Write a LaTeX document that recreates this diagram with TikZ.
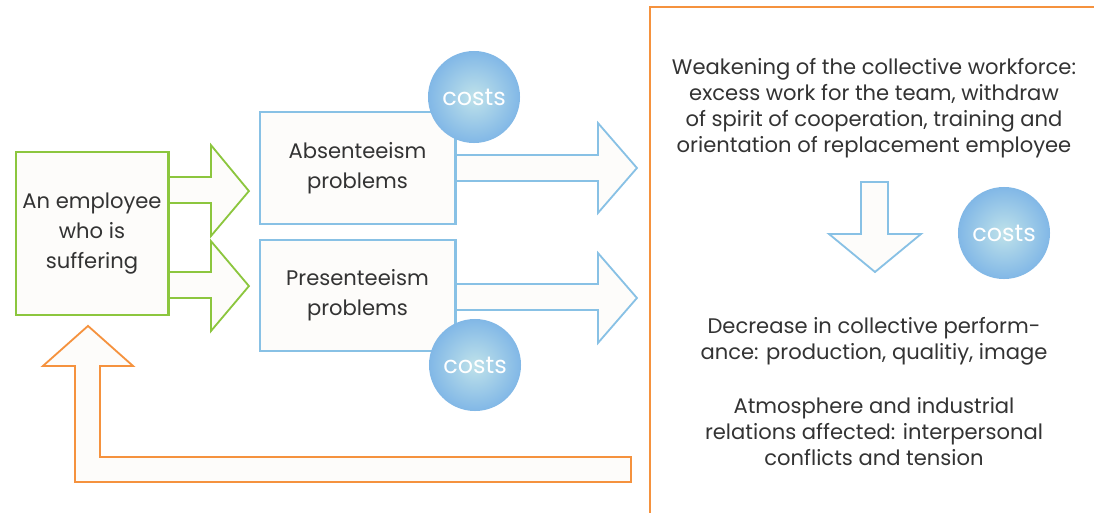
\documentclass[tikz,border=0pt]{standalone}
\usepackage{fontspec}
\setmainfont{Poppins}
\usetikzlibrary{calc}
\definecolor{leafgreen}{HTML}{8CC63E}
\definecolor{skyblue}{HTML}{88C1E5}
\definecolor{paleblue}{HTML}{BFE2EA}
\definecolor{tangerine}{HTML}{F5923E}
\definecolor{inkgray}{HTML}{333333}
\definecolor{paper}{HTML}{FDFCFA}
\tikzset{
  txt/.style={text=inkgray, font=\fontsize{15}{18.5}\selectfont, align=center},
  boxtxt/.style={text=inkgray, font=\fontsize{15}{21.5}\selectfont, align=center},
  greenbox/.style={draw=leafgreen, line width=1.3pt, fill=paper, boxtxt},
  bluebox/.style={draw=skyblue, line width=1.3pt, fill=paper, boxtxt,
    minimum width=4.875cm, minimum height=2.8cm},
  greenblock/.style={draw=leafgreen, line width=1.3pt, fill=paper, line join=miter},
  blueblock/.style={draw=skyblue, line width=1.3pt, fill=paper, line join=miter},
  orangeblock/.style={draw=tangerine, line width=1.3pt, fill=paper, line join=miter},
  costs/.style={circle, minimum size=2.3cm, inner sep=0pt, inner color=paleblue,
    outer color=skyblue!95!blue, text=white, font=\fontsize{17}{17}\selectfont}
}
\begin{document}
\begin{tikzpicture}[x=0.025cm, y=-0.025cm]
  \useasboundingbox (0,0) rectangle (1094,513);
  % outcome frame
  \draw[tangerine, line width=1.3pt, fill=white] (650,7) rectangle (1110,530);
  % boxes
  \node[greenbox, minimum width=3.8cm, minimum height=4.075cm] (emp) at (92,233.5) {An employee\\who is\\suffering};
  \node[bluebox] (absent) at (357.5,168) {Absenteeism\\problems};
  \node[bluebox, minimum height=2.775cm] (present) at (357.5,295.5) {Presenteeism\\problems};
  % block arrows
  \draw[greenblock] ($(emp.north east)+(0,26)$) -- ++(42,0) -- ++(0,-32) -- ++(38,46)
    -- ++(-38,45) -- ++(0,-33) -- ++(-42,0);
  \draw[greenblock] ($(emp.north east)+(0,121)$) -- ++(42,0) -- ++(0,-31) -- ++(38,45)
    -- ++(-38,45) -- ++(0,-33) -- ++(-42,0);
  \draw[blueblock] ($(absent.east)+(0,-13)$) -- ++(142,0) -- ++(0,-32) -- ++(39,45)
    -- ++(-39,45) -- ++(0,-32) -- ++(-142,0);
  \draw[blueblock] ($(present.east)+(0,-11.5)$) -- ++(142,0) -- ++(0,-31) -- ++(39,45)
    -- ++(-39,45) -- ++(0,-33) -- ++(-142,0);
  % redraw box edges over arrow tails
  \draw[leafgreen, line width=1.3pt] (emp.north east) -- (emp.south east);
  \draw[skyblue, line width=1.3pt] (absent.north east) -- (absent.south east);
  \draw[skyblue, line width=1.3pt] (present.north east) -- (present.south east);
  % consequences
  \node[txt] (weak) at (874,108.5) {Weakening of the collective workforce:\\excess work for the team, withdraw\\of spirit of cooperation, training and\\orientation of replacement employee};
  \node[txt] (perf) at (874,341) {Decrease in collective perform-\\ance: production, qualitiy, image};
  \node[txt] (atmos) at (874,432) {Atmosphere and industrial\\relations affected: interpersonal\\conflicts and tension};
  \coordinate (down) at (874.5,182);
  \draw[blueblock] ($(down)+(-13.5,0)$) -- ++(27,0) -- ++(0,52) -- ++(33,0) -- ++(-46,38)
    -- ++(-46,-38) -- ++(32,0) -- cycle;
  % feedback arrow
  \coordinate (back) at ($(emp.south)+(-4,10)$);
  \draw[orangeblock] (back) -- ++(45,40) -- ++(-33,0) -- ++(0,91) -- ++(531,0) -- ++(0,25)
    -- ++(-556,0) -- ++(0,-116) -- ++(-32,0) -- cycle;
  % costs
  \node[costs] (c1) at (474,97) {costs};
  \node[costs] (c2) at (475,365) {costs};
  \node[costs] (c3) at (1004,233) {costs};
\end{tikzpicture}
\end{document}
